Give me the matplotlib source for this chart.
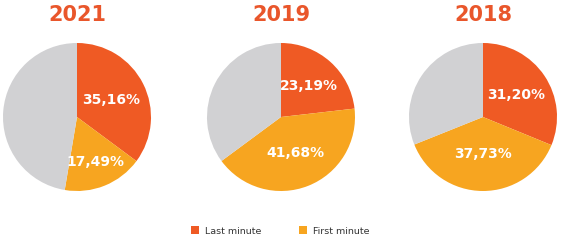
import matplotlib
matplotlib.use("Agg")
from matplotlib import pyplot as plt
from matplotlib.patches import Patch
import numpy as np

years = ["2021", "2019", "2018"]
last_minute = [35.16, 23.19, 31.20]
first_minute = [17.49, 41.68, 37.73]
series_names = ["Last minute", "First minute"]

colors = ["#EF5A24", "#F7A520", "#D1D1D3"]
title_color = "#E9562B"

# pie centres in pixels (x), shared y centre and radius
centres_x = [77, 281, 483]
centre_y = 124
radius = 74
# how far along the radius each label sits (last, first)
label_dist = [[0.52, 0.66], [0.56, 0.52], [0.54, 0.5]]


def fmt(v):
    return f"{v:.2f}".replace(".", ",") + "%"


def main():
    W, H = 564, 241
    fig = plt.figure(figsize=(W / 100, H / 100), dpi=100)
    fig.patch.set_facecolor("white")

    for i, year in enumerate(years):
        cx = centres_x[i]
        ax = fig.add_axes([(cx - radius) / W, (centre_y - radius) / H,
                           2 * radius / W, 2 * radius / H])
        vals = [last_minute[i], first_minute[i],
                100 - last_minute[i] - first_minute[i]]
        wedges, _ = ax.pie(vals, colors=colors, startangle=90,
                           counterclock=False, radius=1,
                           wedgeprops=dict(linewidth=0))
        for j in range(2):
            w = wedges[j]
            ang = np.deg2rad((w.theta1 + w.theta2) / 2)
            d = label_dist[i][j]
            ax.text(d * np.cos(ang), d * np.sin(ang), fmt(vals[j]),
                    ha="center", va="center", color="white",
                    fontsize=10, fontweight="bold")
        ax.set_xlim(-1, 1)
        ax.set_ylim(-1, 1)
        ax.set_aspect("equal")
        ax.axis("off")

        fig.text(cx / W, 1 - 15 / H, year, ha="center", va="center",
                 color=title_color, fontsize=15, fontweight="bold")

    handles = [Patch(facecolor=colors[k], edgecolor="none") for k in range(2)]
    fig.legend(handles, series_names, loc="center", ncol=2,
               bbox_to_anchor=(280 / W, 10 / H), frameon=False,
               fontsize=6.8, handlelength=0.85, handleheight=0.85,
               handletextpad=0.6, columnspacing=4.0,
               labelcolor="#333333")

    fig.savefig("out.png", dpi=100)


if __name__ == "__main__":
    main()
